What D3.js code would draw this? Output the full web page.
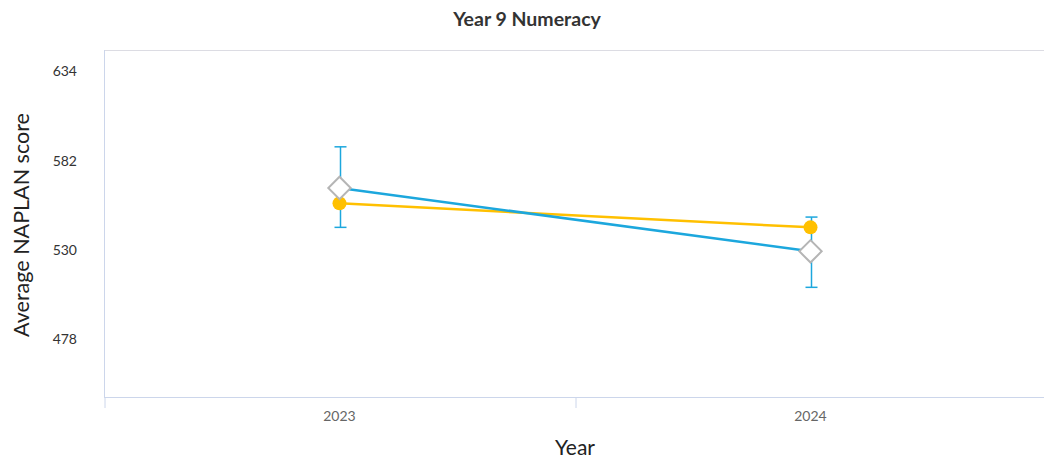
<!DOCTYPE html>
<html><head><meta charset="utf-8">
<script src="https://cdn.jsdelivr.net/npm/d3@7"></script>
<style>body{margin:0;background:#fff;}svg{display:block;}</style>
</head><body>
<svg id="c" width="1044" height="461"></svg>
<script>
const categories = ["2023", "2024"];
const schoolValues = [566, 529];
const comparisonValues = [557, 543];
const errorLow = [543, 508];
const errorHigh = [590, 549];
const yTicks = [478, 530, 582, 634];

const W = 1044, H = 461;
const svg = d3.select("#c");
const x = d3.scaleBand().domain(categories).range([104, 1046]);
const y = d3.scaleLinear().domain([444, 646.5]).range([397, 50]);
const cx = d => x(d) + x.bandwidth() / 2;

// plot border lines
svg.append("line").attr("x1", 104).attr("x2", W).attr("y1", 50.5).attr("y2", 50.5)
  .attr("stroke", "#dcdce3").attr("stroke-width", 1);
svg.append("line").attr("x1", 104.5).attr("x2", 104.5).attr("y1", 50).attr("y2", 397)
  .attr("stroke", "#ccd6eb").attr("stroke-width", 1);

// y axis
const yAxis = d3.axisLeft(y).tickValues(yTicks).tickSize(0).tickPadding(0);
const gy = svg.append("g").attr("transform", "translate(77,0)").call(yAxis);
gy.select(".domain").remove();
gy.selectAll("text").attr("font-family", "Lato, 'Open Sans', sans-serif").attr("font-size", 14).attr("fill", "#333");

// x axis
const xAxis = d3.axisBottom(d3.scaleLinear().domain([0, 2]).range([104, 1046]))
  .tickValues([0, 1, 2]).tickSize(11).tickFormat("");
const gx = svg.append("g").attr("transform", "translate(0,397)").call(xAxis);
gx.select(".domain").attr("d", "M104,0.5H1046").attr("stroke", "#ccd6eb");
gx.selectAll(".tick line").attr("stroke", "#ccd6eb").attr("transform", "translate(0.5,0)");
svg.selectAll(".xlab").data(categories).enter().append("text")
  .attr("x", d => cx(d)).attr("y", 421).attr("text-anchor", "middle")
  .attr("font-family", "Lato, sans-serif").attr("font-size", 14).attr("fill", "#666")
  .text(d => d);

// titles
svg.append("text").attr("x", 527).attr("y", 26).attr("text-anchor", "middle")
  .attr("font-family", "Lato, sans-serif").attr("font-weight", "bold").attr("font-size", 19.5)
  .attr("fill", "#333").text("Year 9 Numeracy");
svg.append("text").attr("x", 575).attr("y", 455).attr("text-anchor", "middle")
  .attr("font-family", "Lato, 'Open Sans', sans-serif").attr("font-size", 21)
  .attr("fill", "#222").text("Year");
svg.append("text").attr("transform", "translate(29,225) rotate(-90)").attr("text-anchor", "middle")
  .attr("font-family", "Lato, 'Open Sans', sans-serif").attr("font-size", 21.5)
  .attr("fill", "#222").text("Average NAPLAN score");

const blue = "#1ca7dd", yellow = "#ffc000";

// error bars
const eb = svg.append("g");
categories.forEach((c, i) => {
  const px = Math.round(cx(c)) + 0.5;
  eb.append("line").attr("x1", px).attr("x2", px).attr("y1", y(errorHigh[i])).attr("y2", y(errorLow[i]))
    .attr("stroke", blue).attr("stroke-width", 1.5);
  [errorHigh[i], errorLow[i]].forEach(v => {
    eb.append("line").attr("x1", px - 6).attr("x2", px + 6).attr("y1", y(v)).attr("y2", y(v))
      .attr("stroke", blue).attr("stroke-width", 1.5);
  });
});

// lines
const line = vals => d3.line().x((d, i) => cx(categories[i])).y(d => y(d))(vals);
svg.append("path").attr("d", line(comparisonValues)).attr("fill", "none").attr("stroke", yellow).attr("stroke-width", 2.5);
svg.append("path").attr("d", line(schoolValues)).attr("fill", "none").attr("stroke", blue).attr("stroke-width", 2.5);

// yellow markers
svg.selectAll(".ym").data(comparisonValues).enter().append("circle")
  .attr("cx", (d, i) => cx(categories[i])).attr("cy", d => y(d)).attr("r", 7).attr("fill", yellow);

// diamonds
const diamond = d3.symbol().type(d3.symbolSquare).size(250);
svg.selectAll(".dm").data(schoolValues).enter().append("path")
  .attr("d", diamond)
  .attr("transform", (d, i) => `translate(${cx(categories[i])},${y(d)}) rotate(45)`)
  .attr("fill", "#fff").attr("stroke", "#b5b5b5").attr("stroke-width", 2);
</script>
</body></html>
